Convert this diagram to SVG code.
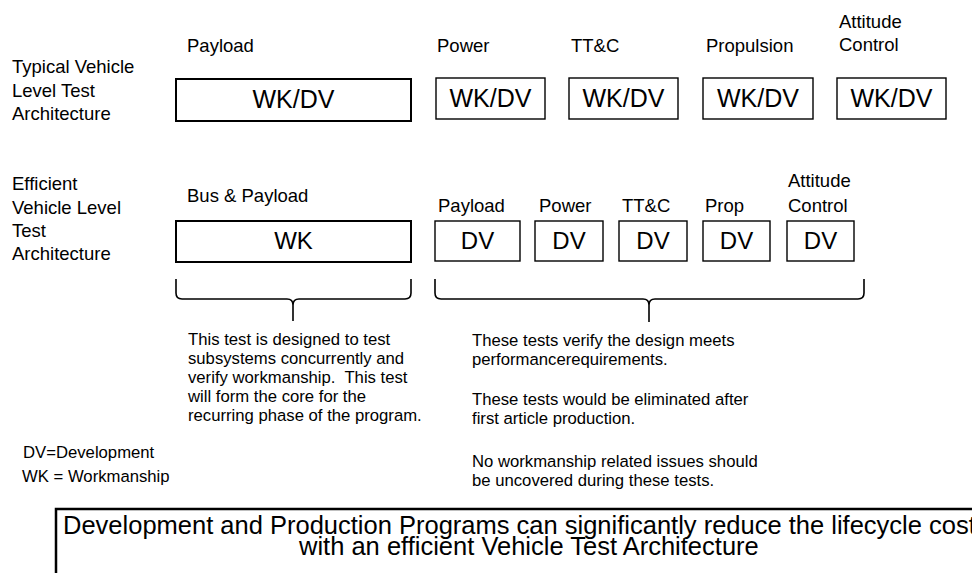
<svg xmlns="http://www.w3.org/2000/svg" width="972" height="573" viewBox="0 0 972 573">
<style>
text{font-family:"Liberation Sans",Arial,sans-serif;fill:#000}
.lbl{font-size:18.5px}
.box{fill:#fff;stroke:#000;stroke-width:1.4}
.big{stroke-width:2}
.t1{font-size:25px;text-anchor:middle}
.t2{font-size:24px;text-anchor:middle}
.par{font-size:16.7px}
.sum{font-size:25.5px}
.brace{fill:none;stroke:#000;stroke-width:1.6}
</style>
<rect width="972" height="573" fill="#fff"/>
<g id="row1-label"><text class="lbl" x="12" y="73">Typical Vehicle</text><text class="lbl" x="12" y="97">Level Test</text><text class="lbl" x="12" y="120">Architecture</text></g>
<g id="row2-label"><text class="lbl" x="12" y="190">Efficient</text><text class="lbl" x="12" y="214">Vehicle Level</text><text class="lbl" x="12" y="237">Test</text><text class="lbl" x="12" y="260">Architecture</text></g>
<g id="r1-payload"><text class="lbl" x="187" y="52">Payload</text><rect class="box big" x="176" y="79" width="235" height="42"/><text class="t1" x="293.5" y="108">WK/DV</text></g>
<g id="r1-power"><text class="lbl" x="437" y="52">Power</text><rect class="box" x="436" y="78" width="109" height="41"/><text class="t1" x="490.5" y="107">WK/DV</text></g>
<g id="r1-ttc"><text class="lbl" x="571" y="52">TT&amp;C</text><rect class="box" x="569" y="78" width="109" height="41"/><text class="t1" x="623.5" y="107">WK/DV</text></g>
<g id="r1-prop"><text class="lbl" x="706" y="52">Propulsion</text><rect class="box" x="703" y="78" width="110" height="41"/><text class="t1" x="758" y="107">WK/DV</text></g>
<g id="r1-att"><text class="lbl" x="839" y="28">Attitude</text><text class="lbl" x="839" y="51">Control</text><rect class="box" x="837" y="78" width="109" height="41"/><text class="t1" x="891.5" y="107">WK/DV</text></g>
<g id="r2-bus"><text class="lbl" x="187" y="202">Bus &amp; Payload</text><rect class="box big" x="176" y="221" width="235" height="41"/><text class="t2" x="293.5" y="249">WK</text></g>
<g id="r2-payload"><text class="lbl" x="438" y="212">Payload</text><rect class="box" x="435" y="221" width="85" height="40"/><text class="t2" x="477.5" y="249">DV</text></g>
<g id="r2-power"><text class="lbl" x="539" y="212">Power</text><rect class="box" x="535" y="221" width="68" height="40"/><text class="t2" x="569" y="249">DV</text></g>
<g id="r2-ttc"><text class="lbl" x="622" y="212">TT&amp;C</text><rect class="box" x="619" y="221" width="68" height="40"/><text class="t2" x="653" y="249">DV</text></g>
<g id="r2-prop"><text class="lbl" x="705" y="212">Prop</text><rect class="box" x="703" y="221" width="67" height="40"/><text class="t2" x="736.5" y="249">DV</text></g>
<g id="r2-att"><text class="lbl" x="788" y="187">Attitude</text><text class="lbl" x="788" y="212">Control</text><rect class="box" x="787" y="221" width="67" height="40"/><text class="t2" x="820.5" y="249">DV</text></g>
<g id="connectors">
<path class="brace" d="M176,279 V293 Q176,299 182,299 H287 Q293,299 293,305 Q293,299 299,299 H405 Q411,299 411,293 V279 M293,305 V321"/>
<path class="brace" d="M435,279 V293 Q435,299 441,299 H643 Q649,299 649,305 Q649,299 655,299 H858 Q864,299 864,293 V279 M649,305 V322"/>
</g>
<g id="note-wk"><text class="par" x="188" y="345">This test is designed to test</text><text class="par" x="188" y="364">subsystems concurrently and</text><text class="par" x="188" y="383" xml:space="preserve">verify workmanship.  This test</text><text class="par" x="188" y="402">will form the core for the</text><text class="par" x="188" y="421">recurring phase of the program.</text></g>
<g id="note-dv"><text class="par" x="472" y="346">These tests verify the design meets</text><text class="par" x="472" y="365">performancerequirements.</text><text class="par" x="472" y="405">These tests would be eliminated after</text><text class="par" x="472" y="424">first article production.</text><text class="par" x="472" y="467">No workmanship related issues should</text><text class="par" x="472" y="486">be uncovered during these tests.</text></g>
<g id="legend"><text class="par" x="23" y="458">DV=Development</text><text class="par" x="22" y="482">WK = Workmanship</text></g>
<g id="summary"><rect x="56" y="509" width="1000" height="120" fill="#fff" stroke="#000" stroke-width="2.5"/><text class="sum" x="63" y="534">Development and Production Programs can significantly reduce the lifecycle cost</text><text class="sum" x="299" y="555">with an efficient Vehicle Test Architecture</text></g>
</svg>
